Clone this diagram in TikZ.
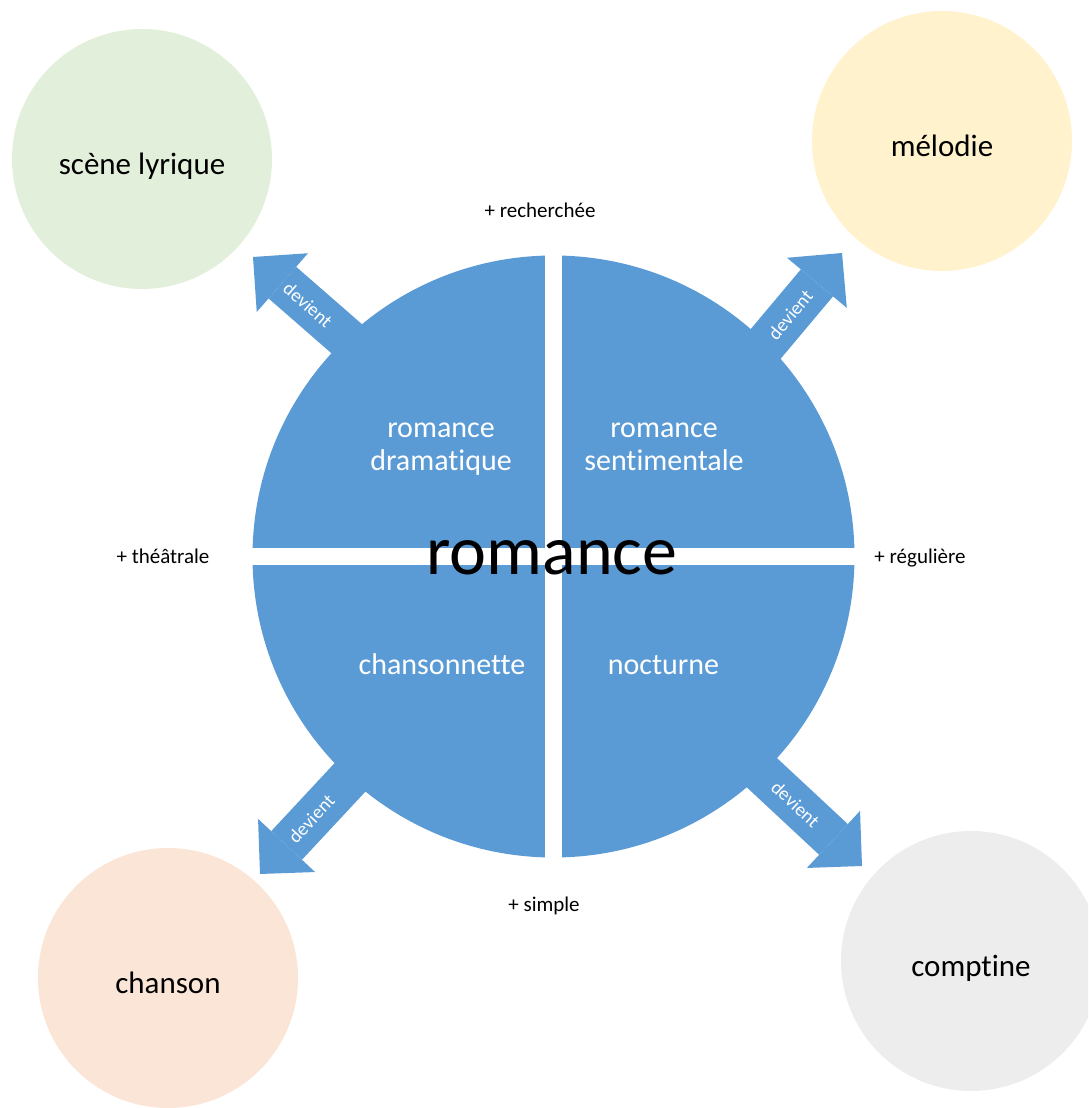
\documentclass[tikz,border=0pt]{standalone}
\usepackage{fontspec}
\setmainfont{Carlito}[Ligatures={NoCommon,NoContextual}]
\usetikzlibrary{arrows.meta}

\definecolor{bleu}{HTML}{5B9BD5}
\definecolor{vert}{HTML}{E2EFDA}
\definecolor{jaune}{HTML}{FFF2CC}
\definecolor{saumon}{HTML}{FBE5D6}
\definecolor{gris}{HTML}{EDEDED}

\begin{document}
\begin{tikzpicture}[x=1pt,y=1pt,
  genre/.style={circle, minimum size=260pt, inner sep=0pt, text height=32pt, text depth=0pt, font=\fontsize{31}{37}\selectfont},
  quartier/.style={align=center, text=white, font=\fontsize{30}{33}\selectfont},
  pole/.style={anchor=base, font=\fontsize{21}{25}\selectfont},
  fleche/.style={bleu, line width=42pt, -{Triangle[width=78pt,length=39pt,line width=0pt]}},
  devient/.style={sloped, text=white, font=\fontsize{19}{22}\selectfont}]

  \clip (0,0) rectangle (1088,1108);

  % Genres voisins
  \node[genre, fill=vert]   (lyrique)  at (142,949) {scène lyrique};
  \node[genre, fill=jaune]  (melodie)  at (942,967) {mélodie};
  \node[genre, fill=saumon] (chanson)  at (168,130) {chanson};
  \node[genre, fill=gris]   (comptine) at (971,147) {comptine};

  % Cercle central
  \coordinate (C) at (553.5,551.5);
  \fill[bleu] (C) circle (301);

  % Fleches
  \coordinate (S1) at (449,680); \coordinate (T1) at (253,851);
  \coordinate (S2) at (675,656); \coordinate (T2) at (842,855);
  \coordinate (S3) at (437,424); \coordinate (T3) at (260,234);
  \coordinate (S4) at (672,419); \coordinate (T4) at (862,242);
  \draw[fleche] (S1) -- (T1) node[devient, pos=0.72] {devient};
  \draw[fleche] (S2) -- (T2) node[devient, pos=0.69] {devient};
  \draw[fleche] (S3) -- (T3) node[devient, pos=0.71] {devient};
  \draw[fleche] (S4) -- (T4) node[devient, pos=0.65] {devient};

  % Separations
  \fill[white] (545,246) rectangle (562,857);
  \fill[white] (248,543) rectangle (858,560);

  % Quartiers
  \node[quartier] (dramatique) at (441,658.5) {romance\\dramatique};
  \node[quartier] (sentimentale) at (664,661) {romance\\sentimentale};
  \node[quartier, anchor=base] (chansonnette) at (442,433) {chansonnette};
  \node[quartier, anchor=base] (nocturne) at (663.5,433) {nocturne};
  \node[anchor=base, font=\fontsize{70}{84}\selectfont] (romance) at (552,533) {romance};

  % Tendances
  \node[pole] (recherchee) at (540,890) {+ recherchée};
  \node[pole] (theatrale) at (163,544) {+ théâtrale};
  \node[pole] (reguliere) at (920,544) {+ régulière};
  \node[pole] (simple) at (544,196) {+ simple};
\end{tikzpicture}
\end{document}
